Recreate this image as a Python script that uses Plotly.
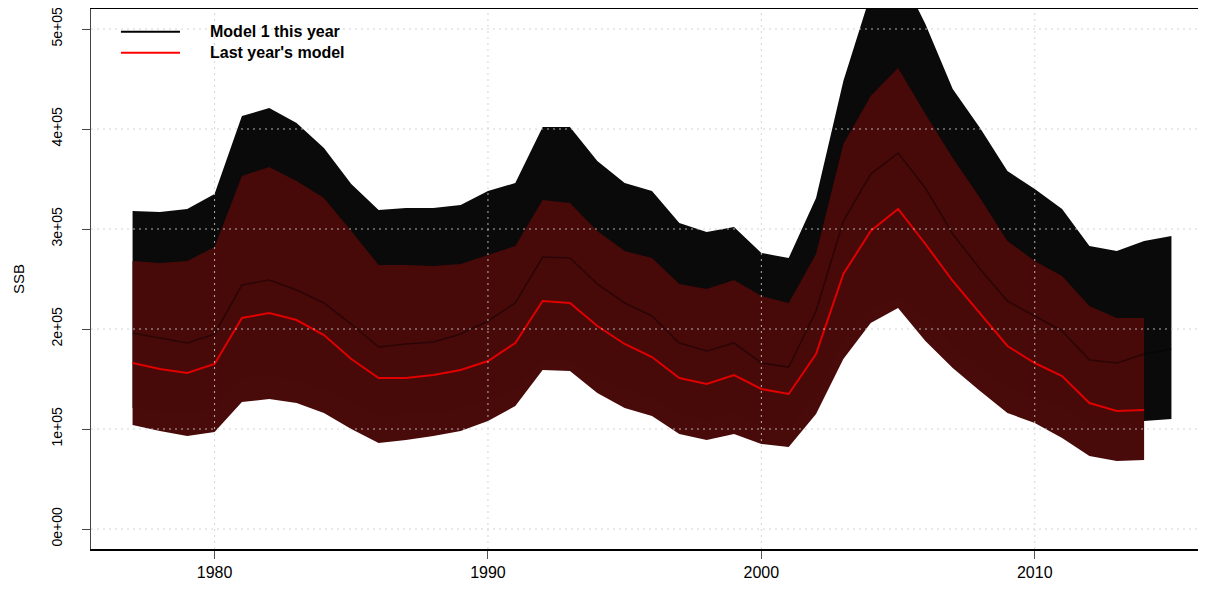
import plotly.graph_objects as go

# ---------------- data ----------------
years_m1 = list(range(1977, 2016))
years_ly = list(range(1977, 2015))

m1_mid = [196000, 191000, 186000, 195000, 244000, 249000, 239000, 226000, 205000, 182000,
          185000, 187000, 195000, 208000, 226000, 272000, 271000, 245000, 226000, 213000,
          186000, 178000, 186000, 166000, 162000, 218000, 308000, 355000, 376000, 341000,
          295000, 260000, 228000, 213000, 198000, 169000, 166000, 175000, 180000]
m1_upper = [318000, 317000, 320000, 335000, 413000, 421000, 406000, 381000, 345000, 319000,
            321000, 321000, 324000, 338000, 346000, 402000, 402000, 368000, 346000, 338000,
            306000, 297000, 302000, 276000, 271000, 331000, 448000, 535000, 560000, 505000,
            440000, 401000, 358000, 340000, 320000, 283000, 278000, 288000, 293000]
m1_lower = [121000, 118000, 115000, 121000, 151000, 154000, 148000, 140000, 127000, 113000,
            115000, 116000, 121000, 129000, 140000, 168000, 168000, 152000, 140000, 132000,
            115000, 110000, 115000, 103000, 100000, 135000, 191000, 220000, 233000, 211000,
            183000, 161000, 141000, 132000, 123000, 105000, 103000, 108000, 110000]

ly_mid = [166000, 160000, 156000, 165000, 211000, 216000, 209000, 194000, 170000, 151000,
          151000, 154000, 159000, 168000, 186000, 228000, 226000, 203000, 185000, 172000,
          151000, 145000, 154000, 140000, 135000, 175000, 255000, 298000, 320000, 285000,
          248000, 215000, 183000, 166000, 153000, 126000, 118000, 119000]
ly_upper = [268000, 266000, 268000, 282000, 353000, 362000, 348000, 331000, 298000, 264000,
            264000, 263000, 265000, 274000, 283000, 329000, 326000, 298000, 278000, 271000,
            245000, 240000, 249000, 233000, 226000, 275000, 385000, 433000, 461000, 415000,
            371000, 331000, 288000, 268000, 253000, 223000, 211000, 211000]
ly_lower = [104000, 98000, 93000, 97000, 127000, 130000, 126000, 116000, 100000, 86000,
            89000, 93000, 98000, 108000, 123000, 159000, 158000, 136000, 121000, 113000,
            95000, 89000, 95000, 85000, 82000, 115000, 170000, 206000, 221000, 188000,
            161000, 138000, 116000, 106000, 91000, 73000, 68000, 69000]

x_ticks = [1980, 1990, 2000, 2010]
x_tick_labels = ["1980", "1990", "2000", "2010"]
y_ticks = [0, 100000, 200000, 300000, 400000, 500000]
y_tick_labels = ["0e+00", "1e+05", "2e+05", "3e+05", "4e+05", "5e+05"]
y_title = "SSB"
legend_labels = ["Model 1 this year", "Last year's model"]
legend_colors = ["black", "red"]

FONT = "Liberation Sans, Arial, Helvetica, sans-serif"

fig = go.Figure()

# Model 1 band
fig.add_trace(go.Scatter(x=years_m1, y=m1_lower, mode="lines", line=dict(width=0),
                         showlegend=False, hoverinfo="skip"))
fig.add_trace(go.Scatter(x=years_m1, y=m1_upper, mode="lines", line=dict(width=0),
                         fill="tonexty", fillcolor="#0a0a0a", showlegend=False, hoverinfo="skip"))
# Last year's band
fig.add_trace(go.Scatter(x=years_ly, y=ly_lower, mode="lines", line=dict(width=0),
                         showlegend=False, hoverinfo="skip"))
fig.add_trace(go.Scatter(x=years_ly, y=ly_upper, mode="lines", line=dict(width=0),
                         fill="tonexty", fillcolor="rgba(72,9,9,0.995)", showlegend=False,
                         hoverinfo="skip"))
# central lines
fig.add_trace(go.Scatter(x=years_m1, y=m1_mid, mode="lines",
                         line=dict(color="rgba(0,0,0,0.4)", width=1.6), showlegend=False))
fig.add_trace(go.Scatter(x=years_ly, y=ly_mid, mode="lines",
                         line=dict(color="#e00000", width=2), showlegend=False))

# dotted grid drawn above the bands
shapes = []
for v in y_ticks:
    shapes.append(dict(type="line", xref="paper", x0=0, x1=1, yref="y", y0=v, y1=v,
                       line=dict(color="rgba(205,205,205,0.85)", width=1, dash="2px,4px"),
                       layer="above"))
for v in x_ticks:
    shapes.append(dict(type="line", yref="paper", y0=0, y1=1, xref="x", x0=v, x1=v,
                       line=dict(color="rgba(205,205,205,0.85)", width=1, dash="2px,4px"),
                       layer="above"))

# manual legend
leg_y = [0.958, 0.919]
annotations = []
for lab, col, yy in zip(legend_labels, legend_colors, leg_y):
    shapes.append(dict(type="line", xref="paper", yref="paper", x0=0.0267, x1=0.0793,
                       y0=yy, y1=yy, line=dict(color=col, width=2), layer="above"))
    annotations.append(dict(xref="paper", yref="paper", x=0.1043, y=yy, text=lab,
                            showarrow=False, xanchor="left", yanchor="middle",
                            font=dict(family=FONT, size=16, color="black", weight="bold")))

# y axis title
annotations.append(dict(xref="paper", yref="paper", x=-0.065, y=0.5, text=y_title,
                        textangle=-90, showarrow=False, xanchor="center", yanchor="middle",
                        font=dict(family=FONT, size=15, color="black")))

fig.update_layout(
    width=1206, height=590,
    margin=dict(l=83, r=1, t=1, b=49, autoexpand=False),
    paper_bgcolor="white", plot_bgcolor="white",
    shapes=shapes, annotations=annotations,
    showlegend=False,
    xaxis=dict(range=[1975.48, 2016.52], tickmode="array", tickvals=x_ticks,
               ticktext=x_tick_labels, showgrid=False, zeroline=False, automargin=False,
               showline=True, linecolor="black", linewidth=1.5, mirror=True,
               ticks="outside", ticklen=8, tickcolor="#555", ticklabeloverflow="allow",
               tickfont=dict(family=FONT, size=16, color="black")),
    yaxis=dict(range=[-20000, 520000], tickmode="array", tickvals=y_ticks,
               ticktext=y_tick_labels, showgrid=False, zeroline=False, automargin=False,
               showline=True, linecolor="#444", linewidth=1, mirror=False,
               ticks="outside", ticklen=8, tickcolor="#444", tickangle=-90,
               ticklabelstandoff=14, ticklabeloverflow="allow",
               tickfont=dict(family=FONT, size=14, color="black")),
)

fig.write_html("out.html")
